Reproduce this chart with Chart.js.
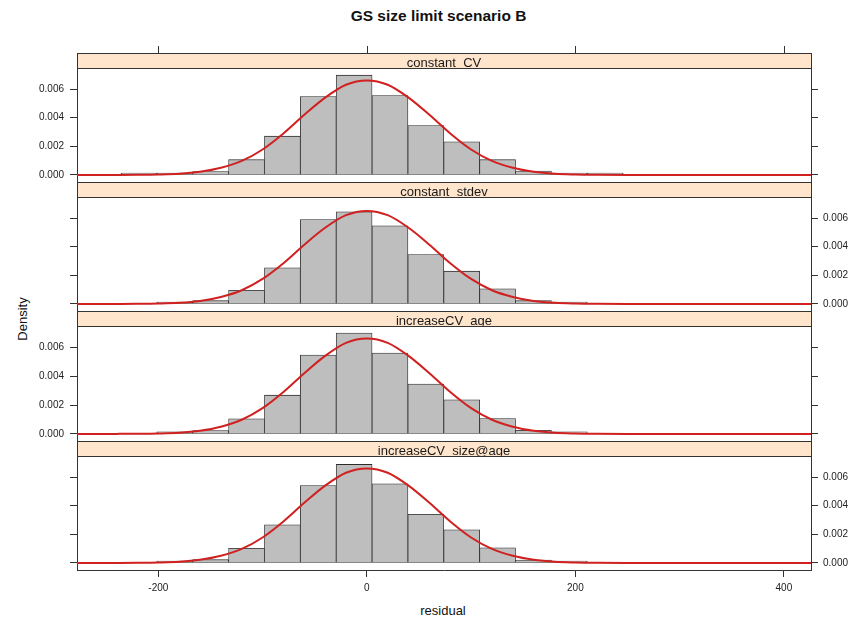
<!DOCTYPE html>
<html>
<head>
<meta charset="utf-8">
<script src="https://cdn.jsdelivr.net/npm/chart.js@4/dist/chart.umd.min.js"></script>
<style>
  html, body { margin: 0; padding: 0; background: #ffffff; }
  #wrap { position: relative; width: 861px; height: 620px; overflow: hidden;
          font-family: "Liberation Sans", Arial, sans-serif; color: #111; }
  #wrap canvas { position: absolute; left: 0; top: 0; }
  .lbl { position: absolute; white-space: nowrap; line-height: 1; }
  #title { left: 438.5px; top: 16px; transform: translate(-50%, -50%); font-weight: bold; font-size: 15.5px; }
  #ylab  { left: 22px; top: 319px; transform: translate(-50%, -50%) rotate(-90deg); font-size: 13px; }
  #xlab  { left: 443px; top: 610px; transform: translate(-50%, -50%); font-size: 13px; }
</style>
</head>
<body>
<div id="wrap">
  <div class="lbl" id="title">GS size limit scenario B</div>
  <div class="lbl" id="ylab">Density</div>
  <div class="lbl" id="xlab">residual</div>
</div>
<script>
// ---- data -------------------------------------------------------------
const panelNames = ['constant_CV', 'constant_stdev', 'increaseCV_age', 'increaseCV_size@age'];

// histogram bin midpoints (bin width 34.4)
const binMids = [-253, -218.6, -184.2, -149.8, -115.4, -81, -46.6, -12.2,
                 22.2, 56.6, 91, 125.4, 159.8, 194.2, 228.6, 263];

// bin densities per scenario
const densCV      = [null, 0.00001, 0.00003, 0.00024, 0.00107, 0.00271, 0.00548, 0.00697,
                     0.00555, 0.00345, 0.00232, 0.00107, 0.00028, 0.00002, 0.00001, null];
const densStdev   = [null, null, 0.00002, 0.00023, 0.00096, 0.00252, 0.00590, 0.00643,
                     0.00546, 0.00345, 0.00229, 0.00106, 0.00023, 0.00002, null, null];
const densAge     = [null, null, 0.00002, 0.00023, 0.00105, 0.00268, 0.00546, 0.00698,
                     0.00560, 0.00345, 0.00236, 0.00106, 0.00025, 0.00002, null, null];
const densSizeAge = [null, null, 0.00002, 0.00023, 0.00103, 0.00266, 0.00540, 0.00688,
                     0.00553, 0.00340, 0.00231, 0.00106, 0.00020, 0.00002, null, null];

// fitted density curve, sampled along the residual axis
const curveX = [-280, -240, -220, -200, -180, -160, -140, -120, -100, -80, -60, -40, -20, 0,
                20, 40, 60, 80, 100, 120, 140, 160, 180, 200, 220, 260, 300, 440];
const curveCV      = [0, 0.000003, 0.00001, 0.00003, 0.00008, 0.00022, 0.0005, 0.00098, 0.00178, 0.0029,
                      0.0042, 0.0054, 0.0063, 0.0066, 0.0063, 0.0054, 0.0042, 0.0029, 0.00178, 0.00098,
                      0.0005, 0.00022, 0.00008, 0.00003, 0.00001, 0, 0, 0];
const curveStdev   = [0, 0.000003, 0.00001, 0.00003, 0.00008, 0.00021, 0.00049, 0.00096, 0.00175, 0.00285,
                      0.00414, 0.00532, 0.0062, 0.0065, 0.0062, 0.00532, 0.00414, 0.00285, 0.00175, 0.00096,
                      0.00049, 0.00021, 0.00008, 0.00003, 0.00001, 0, 0, 0];
const curveAge     = [0, 0.000003, 0.00001, 0.00003, 0.00008, 0.00022, 0.0005, 0.00098, 0.00178, 0.0029,
                      0.0042, 0.0054, 0.0063, 0.0066, 0.0063, 0.0054, 0.0042, 0.0029, 0.00178, 0.00098,
                      0.0005, 0.00022, 0.00008, 0.00003, 0.00001, 0, 0, 0];
const curveSizeAge = [0, 0.000003, 0.00001, 0.00003, 0.00008, 0.00022, 0.0005, 0.00098, 0.00178, 0.0029,
                      0.0042, 0.0054, 0.0063, 0.0066, 0.0063, 0.0054, 0.0042, 0.0029, 0.00178, 0.00098,
                      0.0005, 0.00022, 0.00008, 0.00003, 0.00001, 0, 0, 0];

// axes
const xTicks = [-200, 0, 200, 400];
const yTicks = [0, 0.002, 0.004, 0.006];
const xRange = [-278, 426];
const yRange = [-0.00049, 0.00747];

// ---- layout & style ---------------------------------------------------
const W = 861, H = 620;
const FRAME_L = 77, FRAME_R = 811;
const STRIP_TOPS = [53, 182, 311, 441];
const STRIP_H = 15;
const FRAME_BOTTOM = 570;
const INK = '#333333';
const RED = '#d02020';
const FONT = '"Liberation Sans", Arial, sans-serif';
const STRIP_BASE = 13.7;   // label baseline offset inside a strip

Chart.defaults.font.family = FONT;

const densSets = [densCV, densStdev, densAge, densSizeAge];
const curveSets = [curveCV, curveStdev, curveAge, curveSizeAge];

// panel strip with its label, plus the outer top ticks on the first panel
const stripPlugin = {
  id: 'strip',
  afterDraw(chart, args, opts) {
    const a = chart.chartArea;
    const ctx = chart.ctx;
    const y0 = a.top - STRIP_H;
    ctx.save();
    ctx.fillStyle = '#ffe5cc';
    ctx.fillRect(a.left, y0, a.right - a.left, STRIP_H);
    // the label is clipped just under its baseline, as the strip box cuts it
    ctx.save();
    ctx.beginPath();
    ctx.rect(a.left + 1, y0 + 1, a.right - a.left - 2, STRIP_BASE);
    ctx.clip();
    ctx.fillStyle = '#1a1a1a';
    ctx.font = '13px ' + FONT;
    ctx.textAlign = 'center';
    ctx.textBaseline = 'alphabetic';
    ctx.fillText(opts.label, (a.left + a.right) / 2, y0 + STRIP_BASE);
    ctx.restore();
    ctx.strokeStyle = INK;
    ctx.lineWidth = 1;
    ctx.strokeRect(a.left + 0.5, y0 + 0.5, a.right - a.left, STRIP_H);
    if (opts.topTicks) {
      const xs = chart.scales.x;
      ctx.beginPath();
      xTicks.forEach(v => {
        const px = Math.round(xs.getPixelForValue(v)) + 0.5;
        ctx.moveTo(px, y0 + 0.5);
        ctx.lineTo(px, y0 - 7);
      });
      ctx.stroke();
    }
    ctx.restore();
  }
};

const wrap = document.getElementById('wrap');

panelNames.forEach((name, i) => {
  const canvas = document.createElement('canvas');
  canvas.width = W;
  canvas.height = H;
  canvas.style.width = W + 'px';
  canvas.style.height = H + 'px';
  wrap.appendChild(canvas);

  const top = STRIP_TOPS[i] + STRIP_H;
  const bottom = i < panelNames.length - 1 ? STRIP_TOPS[i + 1] : FRAME_BOTTOM;
  const isLast = i === panelNames.length - 1;
  const labelsLeft = i % 2 === 0;

  const yAxis = (pos, showLabels) => ({
    type: 'linear',
    position: pos,
    min: yRange[0],
    max: yRange[1],
    afterFit: s => { s.width = pos === 'left' ? FRAME_L : W - FRAME_R; },
    afterBuildTicks: s => { s.ticks = yTicks.map(v => ({ value: v })); },
    grid: { display: true, drawOnChartArea: false, drawTicks: true, tickLength: 7, color: INK, lineWidth: 1 },
    border: { display: true, color: INK, width: 1 },
    ticks: {
      display: showLabels,
      padding: pos === 'left' ? 6 : 5,
      color: '#222',
      font: { size: 10, family: FONT },
      callback: v => Number(v).toFixed(3)
    }
  });

  new Chart(canvas, {
    type: 'bar',
    data: {
      datasets: [
        {
          type: 'line',
          data: curveX.map((x, k) => ({ x: x, y: curveSets[i][k] })),
          borderColor: RED,
          borderWidth: 2,
          pointRadius: 0,
          cubicInterpolationMode: 'monotone',
          fill: false,
          order: 0
        },
        {
          type: 'bar',
          data: binMids.map((x, k) => ({ x: x, y: densSets[i][k] })),
          backgroundColor: '#bebebe',
          borderColor: '#2b2b2b',
          borderWidth: 0.8,
          borderSkipped: false,
          barPercentage: 1,
          categoryPercentage: 1,
          minBarLength: 2,
          order: 1
        }
      ]
    },
    options: {
      responsive: false,
      animation: false,
      devicePixelRatio: 1,
      events: [],
      layout: { padding: { left: 0, right: 0, top: top, bottom: 0 } },
      plugins: {
        legend: { display: false },
        tooltip: { enabled: false },
        title: { display: false },
        strip: { label: name, topTicks: i === 0 }
      },
      scales: {
        x: {
          type: 'linear',
          position: 'bottom',
          offset: false,
          min: xRange[0],
          max: xRange[1],
          afterFit: s => { s.height = H - bottom; },
          afterBuildTicks: s => { s.ticks = xTicks.map(v => ({ value: v })); },
          grid: { display: true, offset: false, drawOnChartArea: false, drawTicks: isLast, tickLength: 7, color: INK, lineWidth: 1 },
          border: { display: true, color: INK, width: 1 },
          ticks: {
            display: isLast,
            padding: 5,
            color: '#222',
            maxRotation: 0,
            autoSkip: false,
            font: { size: 10, family: FONT },
            callback: v => String(v)
          }
        },
        y: yAxis('left', labelsLeft),
        yR: yAxis('right', !labelsLeft)
      }
    },
    plugins: [stripPlugin]
  });
});
</script>
</body>
</html>
